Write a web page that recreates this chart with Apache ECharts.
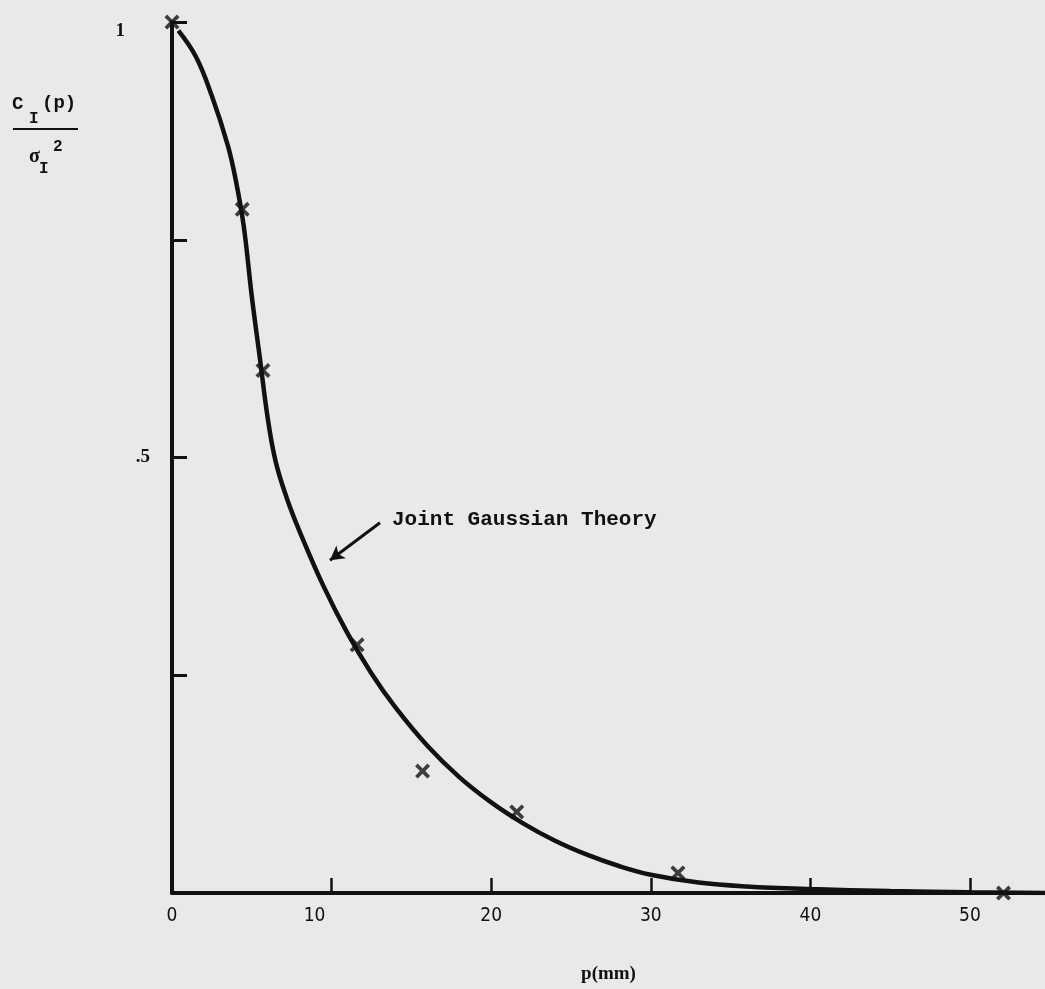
<!DOCTYPE html>
<html>
<head>
<meta charset="utf-8">
<script src="https://cdn.jsdelivr.net/npm/echarts@6/dist/echarts.min.js"></script>
<style>
  html, body { margin: 0; padding: 0; background: #e9e9e7; }
  #chart { width: 1045px; height: 989px; }
</style>
</head>
<body>
<div id="chart"></div>
<script>
// Joint Gaussian Theory curve
var curveX = [0.4, 1.5, 2.5, 3.5, 4.0, 4.5, 5.0, 5.5, 6.0, 6.5, 7.2, 8.0, 9.5, 11.0, 12.5, 14.0, 16.0, 18.0, 20.0, 22.0, 24.0, 26.0, 28.0, 30.0, 33.0, 36.0, 40.0, 45.0, 50.0, 54.7];
var curveY = [0.99, 0.96, 0.915, 0.858, 0.818, 0.765, 0.685, 0.615, 0.545, 0.495, 0.453, 0.415, 0.352, 0.298, 0.252, 0.213, 0.169, 0.133, 0.104, 0.080, 0.060, 0.044, 0.031, 0.021, 0.012, 0.0075, 0.0045, 0.0022, 0.0008, 0.0];
// Measured points (x markers)
var obsX = [0, 4.4, 5.7, 11.6, 15.7, 21.6, 31.7, 52.1];
var obsY = [1.0, 0.785, 0.60, 0.285, 0.14, 0.093, 0.023, 0.0];
// Ticks
var xTicks = [0, 10, 20, 30, 40, 50];
var yTickLabels = { '1': '1', '0.5': '.5' };
// Annotation arrow (data units)
var arrowFrom = [13.03, 0.425];
var arrowTo = [9.9, 0.382];
var annotationText = 'Joint Gaussian Theory';

var ink = '#111111';
var chart = echarts.init(document.getElementById('chart'));

function zip(a, b) { return a.map(function (v, i) { return [v, b[i]]; }); }

var xSym = 'path://M3.5,0 L10,6.5 L16.5,0 L20,3.5 L13.5,10 L20,16.5 L16.5,20 L10,13.5 L3.5,20 L0,16.5 L6.5,10 L0,3.5 Z';
var narrow = "'Liberation Sans Narrow', 'DejaVu Sans Condensed', sans-serif";

chart.setOption({
  animation: false,
  backgroundColor: '#e9e9e7',
  grid: { left: 172, right: 0, top: 22, bottom: 96, containLabel: false },
  xAxis: {
    type: 'value', min: 0, max: 54.7, interval: 10,
    name: 'p(mm)', nameLocation: 'middle', nameGap: 72,
    nameTextStyle: { fontFamily: 'Liberation Serif', fontWeight: 'bold', fontSize: 19, color: ink },
    splitLine: { show: false },
    axisLine: { onZero: false, lineStyle: { color: ink, width: 4 } },
    axisTick: { inside: true, length: 15, lineStyle: { color: ink, width: 2.5 } },
    axisLabel: {
      margin: 14, showMaxLabel: false,
      fontFamily: narrow, fontSize: 19, color: ink,
      formatter: function (v) {
        if (xTicks.indexOf(v) < 0) return '';
        if (v === 10) return '{ten|10}';
        return String(v);
      },
      rich: { ten: { padding: [0, 34, 0, 0], fontFamily: narrow, fontSize: 19, color: ink } }
    }
  },
  yAxis: {
    type: 'value', min: 0, max: 1, interval: 0.25,
    splitLine: { show: false },
    axisLine: { onZero: false, lineStyle: { color: ink, width: 4 } },
    axisTick: { inside: true, length: 15, lineStyle: { color: ink, width: 3 } },
    axisLabel: {
      margin: 22,
      fontFamily: 'Liberation Serif', fontWeight: 'bold', fontSize: 19, color: ink,
      formatter: function (v) {
        var s = yTickLabels[String(v)];
        if (!s) return '';
        if (v === 1) return '{one|' + s + '}';
        return s;
      },
      rich: { one: { padding: [18, 25, 0, 0], fontFamily: 'Liberation Serif', fontWeight: 'bold', fontSize: 19, color: ink } }
    }
  },
  series: [
    {
      type: 'line', data: zip(curveX, curveY), smooth: 0.4, showSymbol: false,
      lineStyle: { color: ink, width: 4.5 }, z: 3,
      markLine: {
        silent: true, symbol: ['none', 'arrow'], symbolSize: [12, 14],
        label: { show: false },
        lineStyle: { color: ink, width: 3, type: 'solid' },
        data: [[{ coord: arrowFrom }, { coord: arrowTo }]]
      }
    },
    {
      type: 'scatter', data: zip(obsX, obsY), symbol: xSym, symbolSize: 15,
      itemStyle: { color: ink }, z: 5
    }
  ],
  graphic: [
    { type: 'text', left: 392, top: 509, style: { text: annotationText, font: 'bold 21px "Liberation Mono"', fill: ink } },
    // y axis title: C_I(p) / sigma_I^2
    { type: 'text', left: 12, top: 95, style: { text: 'C', font: 'bold 19px "Liberation Mono"', fill: ink } },
    { type: 'text', left: 29, top: 111, style: { text: 'I', font: 'bold 16px "Liberation Mono"', fill: ink } },
    { type: 'text', left: 42, top: 94, style: { text: '(p)', font: 'bold 19px "Liberation Mono"', fill: ink } },
    { type: 'line', shape: { x1: 13, y1: 129, x2: 78, y2: 129 }, style: { stroke: ink, lineWidth: 2 } },
    { type: 'text', left: 29, top: 147, style: { text: 'σ', font: 'bold 20px "Liberation Serif"', fill: ink } },
    { type: 'text', left: 39, top: 161, style: { text: 'I', font: 'bold 16px "Liberation Mono"', fill: ink } },
    { type: 'text', left: 53, top: 139, style: { text: '2', font: 'bold 16px "Liberation Mono"', fill: ink } }
  ]
});
</script>
</body>
</html>
